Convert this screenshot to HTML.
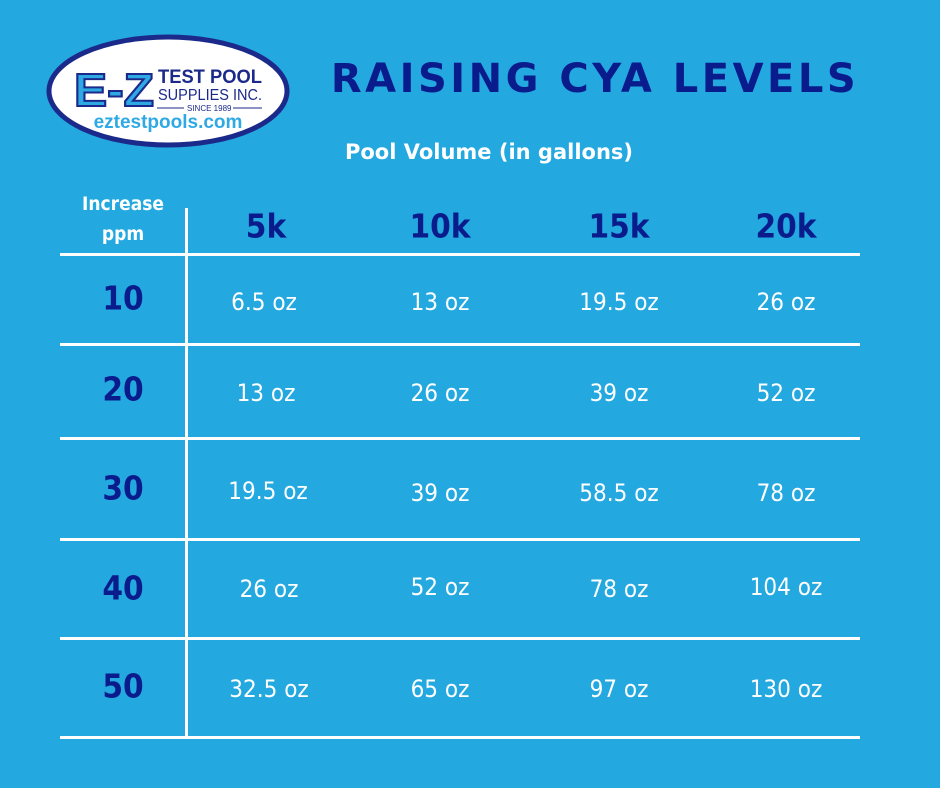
<!DOCTYPE html>
<html><head><meta charset="utf-8"><style>
body{margin:0;width:940px;height:788px;background:#23a8e0;position:relative;overflow:hidden;font-family:"DejaVu Sans","Liberation Sans",sans-serif}
.t{position:absolute;transform:translate(-50%,-50%);white-space:nowrap}
.h{position:absolute;left:60px;width:800px;height:3px;background:#fff}
.v{position:absolute;left:185px;top:208px;width:3px;height:531px;background:#fff}
.n{color:#0a1b8c;font-weight:bold;font-size:33px;font-family:"DejaVu Sans Condensed","DejaVu Sans",sans-serif}
.c{color:#fff;font-size:24px;font-family:"DejaVu Sans Condensed","DejaVu Sans",sans-serif;font-weight:normal}
</style></head><body>
<svg style="position:absolute;left:0;top:0" width="940" height="200">
<ellipse cx="168" cy="91" rx="119" ry="54" fill="#fff" stroke="#1b2a8a" stroke-width="5"/>
<text x="74" y="106" font-family="Liberation Sans" font-weight="bold" font-size="46" fill="#2fa9e4" stroke="#1b2a8a" stroke-width="2" textLength="80" lengthAdjust="spacingAndGlyphs">E-Z</text>
<text x="158" y="83" font-family="Liberation Sans" font-weight="bold" font-size="19" fill="#1b2a8a" textLength="104" lengthAdjust="spacingAndGlyphs">TEST POOL</text>
<text x="158" y="100" font-family="Liberation Sans" font-size="16" fill="#1b2a8a" textLength="104" lengthAdjust="spacingAndGlyphs">SUPPLIES INC.</text>
<line x1="157" y1="108" x2="184" y2="108" stroke="#1b2a8a"/><line x1="233" y1="108" x2="262" y2="108" stroke="#1b2a8a"/>
<text x="187" y="111" font-family="Liberation Sans" font-size="8" fill="#1b2a8a">SINCE 1989</text>
<text x="168" y="128" text-anchor="middle" font-family="Liberation Sans" font-weight="bold" font-size="19" fill="#2fa9e4">eztestpools.com</text>
</svg>
<div class="t" style="left:595px;top:79px;color:#0a1b8c;font-family:'DejaVu Sans',sans-serif;font-weight:bold;font-size:40px;letter-spacing:3.5px">RAISING CYA LEVELS</div>
<div class="t" style="left:489px;top:152px;color:#fff;font-weight:bold;font-size:21px">Pool Volume (in gallons)</div>
<div class="t" style="left:123px;top:219px;color:#fff;font-weight:bold;font-size:19px;text-align:center;line-height:30px;font-family:'DejaVu Sans Condensed','DejaVu Sans',sans-serif">Increase<br>ppm</div>
<div class="v"></div>
<div class="h" style="top:253px"></div><div class="h" style="top:343px"></div><div class="h" style="top:437px"></div><div class="h" style="top:538px"></div><div class="h" style="top:637px"></div><div class="h" style="top:736px"></div>
<div class="t n" style="left:266px;top:226px">5k</div><div class="t n" style="left:440px;top:226px">10k</div><div class="t n" style="left:619px;top:226px">15k</div><div class="t n" style="left:786px;top:226px">20k</div>
<div class="t n" style="left:123px;top:298px">10</div><div class="t n" style="left:123px;top:389px">20</div><div class="t n" style="left:123px;top:488px">30</div><div class="t n" style="left:123px;top:588px">40</div><div class="t n" style="left:123px;top:686px">50</div>
<div class="t c" style="left:264px;top:302px">6.5 oz</div><div class="t c" style="left:440px;top:302px">13 oz</div><div class="t c" style="left:619px;top:302px">19.5 oz</div><div class="t c" style="left:786px;top:302px">26 oz</div>
<div class="t c" style="left:266px;top:393px">13 oz</div><div class="t c" style="left:440px;top:393px">26 oz</div><div class="t c" style="left:619px;top:393px">39 oz</div><div class="t c" style="left:786px;top:393px">52 oz</div>
<div class="t c" style="left:268px;top:491px">19.5 oz</div><div class="t c" style="left:440px;top:493px">39 oz</div><div class="t c" style="left:619px;top:493px">58.5 oz</div><div class="t c" style="left:786px;top:493px">78 oz</div>
<div class="t c" style="left:269px;top:589px">26 oz</div><div class="t c" style="left:440px;top:587px">52 oz</div><div class="t c" style="left:619px;top:589px">78 oz</div><div class="t c" style="left:786px;top:587px">104 oz</div>
<div class="t c" style="left:269px;top:689px">32.5 oz</div><div class="t c" style="left:440px;top:689px">65 oz</div><div class="t c" style="left:619px;top:689px">97 oz</div><div class="t c" style="left:786px;top:689px">130 oz</div>
</body></html>
